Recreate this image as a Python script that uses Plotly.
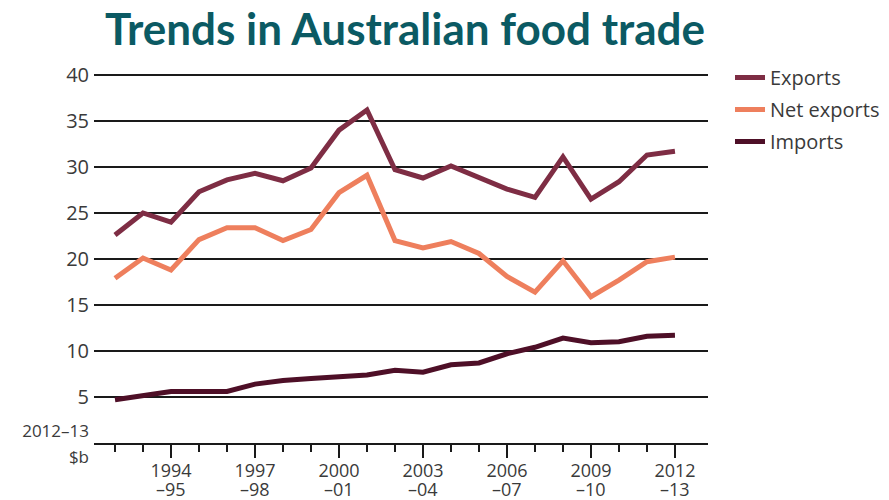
import plotly.graph_objects as go

years = ["1992–93", "1993–94", "1994–95", "1995–96", "1996–97", "1997–98", "1998–99",
         "1999–00", "2000–01", "2001–02", "2002–03", "2003–04", "2004–05", "2005–06",
         "2006–07", "2007–08", "2008–09", "2009–10", "2010–11", "2011–12", "2012–13"]

exports = [22.6, 25.0, 24.0, 27.3, 28.6, 29.3, 28.5, 29.9, 34.0, 36.2, 29.7,
           28.8, 30.1, 28.9, 27.6, 26.7, 31.1, 26.5, 28.4, 31.3, 31.7]
net_exports = [17.9, 20.1, 18.8, 22.1, 23.4, 23.4, 22.0, 23.2, 27.2, 29.1, 22.0,
               21.2, 21.9, 20.6, 18.1, 16.4, 19.8, 15.9, 17.7, 19.7, 20.2]
imports = [4.7, 5.1, 5.6, 5.6, 5.6, 6.4, 6.8, 7.0, 7.2, 7.4, 7.9,
           7.7, 8.5, 8.7, 9.7, 10.4, 11.4, 10.9, 11.0, 11.6, 11.7]

major_idx = [2, 5, 8, 11, 14, 17, 20]
major_top = ["1994", "1997", "2000", "2003", "2006", "2009", "2012"]
major_bottom = ["–95", "–98", "–01", "–04", "–07", "–10", "–13"]
y_ticks = [0, 5, 10, 15, 20, 25, 30, 35, 40]
y_labels = ['<span style="font-size:17px">2012–13<br>$b</span>',
            "5", "10", "15", "20", "25", "30", "35", "40"]

x = list(range(len(years)))

fig = go.Figure()
series = [("Exports", exports, "#7e2d44"),
          ("Net exports", net_exports, "#ee7f5d"),
          ("Imports", imports, "#4e0f27")]
for name, vals, col in series:
    fig.add_trace(go.Scatter(x=x, y=vals, name=name, mode="lines",
                             line=dict(color=col, width=5),
                             legendgroup=name, customdata=years,
                             hovertemplate="%{customdata}: %{y}<extra>" + name + "</extra>"))

txt = "#3a3a3a"
x_font = dict(family="Open Sans", size=18, color=txt)
y_font = dict(family="Open Sans", size=20, color=txt)

# second line of each major x label, placed under its tick
for xv, lab in zip(major_idx, major_bottom):
    fig.add_annotation(x=xv, xref="x", y=0, yref="paper", text=lab, showarrow=False,
                       xanchor="center", yanchor="middle", yshift=-46, font=x_font)

# the page body adds an 8px margin, so the figure is 8px smaller and shifted
W, H = 881, 492
fig.update_layout(
    width=W, height=H,
    paper_bgcolor="white", plot_bgcolor="white",
    margin=dict(l=86, r=181, t=62, b=57, autoexpand=False),
    title=dict(text="<b>Trends in Australian food trade</b>",
               font=dict(family="Lato", size=44, color="#0b5a63"),
               x=397 / W, xanchor="center", xref="container",
               y=1 - 22 / H, yanchor="middle", yref="container"),
    showlegend=True,
    legend=dict(xref="container", yref="container", x=722 / W, y=1 - 50 / H,
                xanchor="left", yanchor="top", font=dict(family="Open Sans", size=20, color=txt),
                itemwidth=30, tracegroupgap=3, traceorder="grouped",
                bgcolor="rgba(0,0,0,0)"),
    xaxis=dict(range=[-0.75, 21.18], showgrid=False, zeroline=False, automargin=False,
               showline=True, linecolor="#1a1a1a", linewidth=2,
               tickmode="array", tickvals=major_idx, ticktext=major_top,
               ticks="outside", ticklen=13, tickwidth=2, tickcolor="#1a1a1a",
               ticklabelstandoff=-3, tickfont=x_font,
               minor=dict(tickmode="array", tickvals=x, ticks="outside", ticklen=7,
                          tickwidth=2, tickcolor="#1a1a1a", showgrid=False)),
    yaxis=dict(range=[0, 40.54], showgrid=True, gridcolor="#1a1a1a", gridwidth=2,
               zeroline=False, showline=False, automargin=False,
               tickmode="array", tickvals=y_ticks, ticktext=y_labels,
               ticks="", ticklabelstandoff=4, tickfont=y_font),
)

fig.write_html("out.html")
